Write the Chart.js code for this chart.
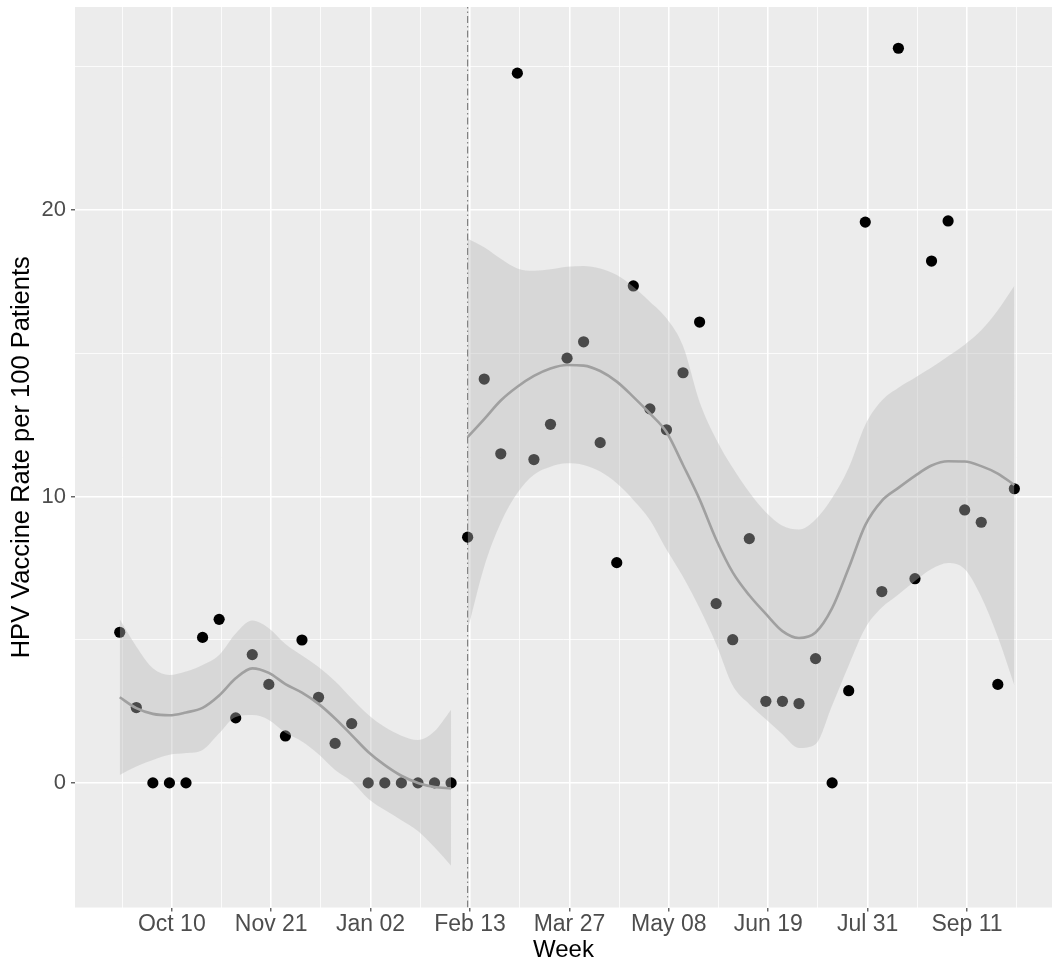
<!DOCTYPE html>
<html>
<head>
<meta charset="utf-8">
<script src="https://cdn.jsdelivr.net/npm/chart.js@4.4.1/dist/chart.umd.min.js"></script>
<style>
  html, body { margin: 0; padding: 0; background: #ffffff; }
  #wrap { width: 1052px; height: 965px; }
</style>
</head>
<body>
<div id="wrap"><canvas id="hpvChart" width="1052" height="965"></canvas></div>
<script>
// weekly HPV vaccine rate per 100 patients, week 0 = Sep 18
const rates = [
  5.26, 2.63, 0, 0, 0, 5.08, 5.71, 2.27, 4.48, 3.44, 1.64, 4.99, 2.99, 1.38, 2.07,
  0, 0, 0, 0, 0, 0,
  8.58, 14.10, 11.49, 24.78, 11.29, 12.52, 14.83, 15.40, 11.88, 7.69, 17.35, 13.06,
  12.33, 14.32, 16.09, 6.26, 5.00, 8.53, 2.85, 2.85, 2.77, 4.34, 0, 3.22, 19.58,
  6.68, 25.65, 7.13, 18.22, 19.62, 9.53, 9.10, 3.44, 10.27
];

// loess fit + band before the cutoff (weeks 0-20)
const fitBefore = [2.99, 2.61, 2.41, 2.36, 2.46, 2.62, 3.05, 3.65, 4.00, 3.84, 3.45,
  3.15, 2.76, 2.25, 1.67, 1.08, 0.62, 0.25, 0.00, -0.14, -0.19];
const bandBeforeHigh = [5.71, 4.76, 4.00, 3.77, 3.89, 4.12, 4.47, 5.22, 5.67, 5.40, 4.85,
  4.45, 4.05, 3.55, 2.95, 2.38, 1.95, 1.65, 1.50, 1.80, 2.55];
const bandBeforeLow = [0.28, 0.57, 0.80, 0.98, 1.04, 1.15, 1.73, 2.30, 2.37, 2.20, 1.75,
  1.45, 1.00, 0.45, 0.05, -0.55, -0.95, -1.30, -1.68, -2.25, -2.89];

// loess fit + band after the cutoff (weeks 21-54)
const fitAfter = [12.07, 12.70, 13.35, 13.83, 14.21, 14.47, 14.59, 14.57, 14.38, 14.01,
  13.48, 12.90, 12.25, 11.10, 9.90, 8.50, 7.35, 6.55, 5.90, 5.30, 5.06, 5.25, 6.10,
  7.50, 9.00, 9.85, 10.30, 10.72, 11.08, 11.23, 11.22, 11.06, 10.80, 10.40];
const bandAfterHigh = [19.01, 18.70, 18.30, 17.96, 17.88, 17.93, 18.02, 18.05, 17.96,
  17.73, 17.32, 16.80, 16.22, 15.25, 13.30, 12.00, 11.00, 10.15, 9.45, 8.98, 8.85, 9.20,
  9.95, 11.00, 12.50, 13.35, 13.80, 14.15, 14.50, 14.90, 15.30, 15.80, 16.50, 17.36];
const bandAfterLow = [5.34, 7.55, 9.08, 10.12, 10.76, 11.04, 11.16, 11.10, 10.87, 10.46,
  9.88, 9.18, 8.15, 7.20, 6.10, 4.85, 3.40, 2.75, 2.22, 1.70, 1.22, 1.35, 2.70, 4.10,
  5.40, 6.12, 6.58, 7.05, 7.47, 7.68, 7.47, 6.50, 5.10, 3.40];

// x axis in days since week 0
const tickDays = [22, 64, 106, 148, 190, 232, 274, 316, 358];
const tickLabels = ['Oct 10', 'Nov 21', 'Jan 02', 'Feb 13', 'Mar 27', 'May 08', 'Jun 19', 'Jul 31', 'Sep 11'];
const minorDays = [1, 43, 85, 127, 169, 211, 253, 295, 337, 379];
const yMajor = [0, 10, 20];
const yMinor = [5, 15, 25];
const cutoffDay = 147;
const afterStart = 21;

const xMin = -18.9, xMax = 393.9;
const yMin = -4.35, yMax = 27.09;

const FONT = "'Liberation Sans', Arial, Helvetica, sans-serif";
const BAND = 'rgba(185,185,185,0.4)';
const FIT = '#A0A0A0';

function toPts(values, startWeek) {
  return values.map((v, k) => ({ x: (startWeek + k) * 7, y: v }));
}

const panelBg = {
  id: 'panelBg',
  beforeDraw(chart) {
    const { ctx, chartArea: a } = chart;
    ctx.save();
    ctx.fillStyle = '#ECECEC';
    ctx.fillRect(a.left, a.top, a.right - a.left, a.bottom - a.top);
    ctx.restore();
  }
};

const isMajorX = c => c.tick && tickDays.includes(c.tick.value);
const isMajorY = c => c.tick && yMajor.includes(c.tick.value);

const bandStyle = { pointRadius: 0, borderWidth: 0, cubicInterpolationMode: 'monotone', order: 3 };
const fitStyle = { pointRadius: 0, borderColor: FIT, borderWidth: 2.6, fill: false, cubicInterpolationMode: 'monotone', order: 1 };

new Chart(document.getElementById('hpvChart'), {
  type: 'line',
  data: {
    datasets: [
      {
        label: 'cutoff',
        data: [{ x: cutoffDay, y: yMin }, { x: cutoffDay, y: yMax }],
        borderColor: '#777777', borderWidth: 1.1, borderDash: [7, 3, 1.5, 3],
        pointRadius: 0, fill: false, order: 5
      },
      {
        label: 'rate',
        data: toPts(rates, 0),
        showLine: false, pointRadius: 5.6, pointBackgroundColor: '#000000',
        pointBorderWidth: 0, order: 4
      },
      Object.assign({ label: 'band before high', data: toPts(bandBeforeHigh, 0), fill: '+1', backgroundColor: BAND }, bandStyle),
      Object.assign({ label: 'band before low', data: toPts(bandBeforeLow, 0), fill: false }, bandStyle),
      Object.assign({ label: 'band after high', data: toPts(bandAfterHigh, afterStart), fill: '+1', backgroundColor: BAND }, bandStyle),
      Object.assign({ label: 'band after low', data: toPts(bandAfterLow, afterStart), fill: false }, bandStyle),
      Object.assign({ label: 'fit before', data: toPts(fitBefore, 0) }, fitStyle),
      Object.assign({ label: 'fit after', data: toPts(fitAfter, afterStart) }, fitStyle)
    ]
  },
  options: {
    responsive: false,
    animation: false,
    devicePixelRatio: 1,
    layout: { autoPadding: false, padding: { top: 7, right: 0, bottom: 0, left: 0 } },
    plugins: { legend: { display: false }, tooltip: { enabled: false } },
    scales: {
      x: {
        type: 'linear', min: xMin, max: xMax,
        afterBuildTicks: s => {
          s.ticks = tickDays.concat(minorDays).sort((a, b) => a - b).map(v => ({ value: v }));
        },
        afterFit: s => {
          s.height = 57.5;
          s.paddingLeft = 0;
          s.paddingRight = 0;
        },
        border: { display: false },
        grid: {
          color: '#FFFFFF',
          lineWidth: c => isMajorX(c) ? 1.6 : 0.8,
          tickColor: c => isMajorX(c) ? '#333333' : 'rgba(0,0,0,0)',
          tickLength: 4,
          tickWidth: 1.1
        },
        ticks: {
          autoSkip: false, maxRotation: 0, minRotation: 0,
          padding: 2,
          color: '#4D4D4D',
          font: { family: FONT, size: 23, lineHeight: 1 },
          callback: v => {
            const k = tickDays.indexOf(v);
            return k >= 0 ? tickLabels[k] : '';
          }
        },
        title: {
          display: true, text: 'Week', color: '#000000',
          font: { family: FONT, size: 24 },
          padding: { top: 0, bottom: 0 }
        }
      },
      y: {
        type: 'linear', min: yMin, max: yMax,
        afterBuildTicks: s => {
          s.ticks = yMajor.concat(yMinor).sort((a, b) => a - b).map(v => ({ value: v }));
        },
        afterFit: s => {
          s.width = 75;
          s.paddingTop = 0;
          s.paddingBottom = 0;
        },
        border: { display: false },
        grid: {
          color: '#FFFFFF',
          lineWidth: c => isMajorY(c) ? 1.6 : 0.8,
          tickColor: c => isMajorY(c) ? '#333333' : 'rgba(0,0,0,0)',
          tickLength: 4,
          tickWidth: 1.1
        },
        ticks: {
          autoSkip: false,
          padding: 5,
          color: '#4D4D4D',
          font: { family: FONT, size: 22 },
          callback: v => yMajor.includes(v) ? String(v) : ''
        },
        title: {
          display: true, text: 'HPV Vaccine Rate per 100 Patients', color: '#000000',
          font: { family: FONT, size: 25.5 },
          padding: { top: 7, bottom: 0 }
        }
      }
    }
  },
  plugins: [panelBg]
});
</script>
</body>
</html>
